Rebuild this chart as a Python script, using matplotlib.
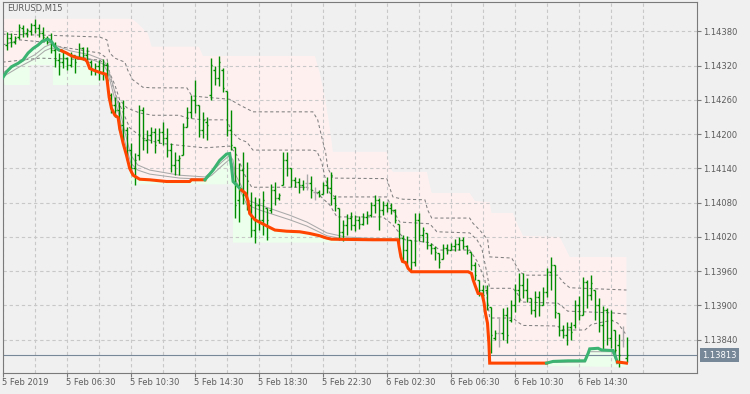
import numpy as np
import matplotlib
matplotlib.use("Agg")
import matplotlib.pyplot as plt
from matplotlib.transforms import blended_transform_factory

plt.rcParams['font.family'] = ['DejaVu Sans']

symbol = "EURUSD,M15"
last_price = 1.13813

time_labels = ['5 Feb 2019', '5 Feb 06:30', '5 Feb 10:30', '5 Feb 14:30', '5 Feb 18:30',
               '5 Feb 22:30', '6 Feb 02:30', '6 Feb 06:30', '6 Feb 10:30', '6 Feb 14:30']
label_bars = [0, 16, 32, 48, 64, 80, 96, 112, 128, 144]
price_ticks = [1.1384, 1.1390, 1.1396, 1.1402, 1.1408, 1.1414, 1.1420, 1.1426, 1.1432, 1.1438]

# OHLC of the M15 bars, oldest first
bar_high = [
    1.14379, 1.14377, 1.14372, 1.14393, 1.14391, 1.14386, 1.14395, 1.14402, 1.14393, 1.14388,
    1.14372, 1.14377, 1.14361, 1.14342, 1.14344, 1.14335, 1.14344, 1.14335, 1.14360, 1.14353,
    1.14353, 1.14330, 1.14325, 1.14330, 1.14332, 1.14326, 1.14272, 1.14265, 1.14256, 1.14260,
    1.14212, 1.14184, 1.14167, 1.14251, 1.14247, 1.14207, 1.14212, 1.14211, 1.14211, 1.14221,
    1.14211, 1.14184, 1.14169, 1.14163, 1.14219, 1.14247, 1.14268, 1.14295, 1.14251, 1.14239,
    1.14230, 1.14333, 1.14319, 1.14337, 1.14316, 1.14275, 1.14242, 1.14177, 1.14150, 1.14169,
    1.14151, 1.14099, 1.14090, 1.14088, 1.14101, 1.14071, 1.14113, 1.14116, 1.14097, 1.14169,
    1.14169, 1.14141, 1.14125, 1.14123, 1.14120, 1.14130, 1.14127, 1.14107, 1.14102, 1.14116,
    1.14125, 1.14134, 1.14094, 1.14071, 1.14050, 1.14060, 1.14064, 1.14059, 1.14057, 1.14062,
    1.14066, 1.14081, 1.14094, 1.14088, 1.14083, 1.14081, 1.14080, 1.14069, 1.14043, 1.14024,
    1.14022, 1.14015, 1.14062, 1.14062, 1.14038, 1.14027, 1.14010, 1.14004, 1.13992, 1.14008,
    1.14008, 1.14010, 1.14016, 1.14020, 1.14020, 1.14006, 1.13994, 1.13976, 1.13945, 1.13936,
    1.13936, 1.13897, 1.13857, 1.13878, 1.13896, 1.13897, 1.13910, 1.13937, 1.13957, 1.13957,
    1.13948, 1.13913, 1.13925, 1.13925, 1.13932, 1.13966, 1.13985, 1.13971, 1.13887, 1.13866,
    1.13871, 1.13871, 1.13910, 1.13917, 1.13950, 1.13945, 1.13953, 1.13927, 1.13913, 1.13899,
    1.13896, 1.13892, 1.13857, 1.13850, 1.13864, 1.13845]
bar_low = [
    1.14347, 1.14353, 1.14358, 1.14367, 1.14370, 1.14370, 1.14374, 1.14377, 1.14370, 1.14365,
    1.14358, 1.14342, 1.14318, 1.14304, 1.14316, 1.14312, 1.14318, 1.14307, 1.14333, 1.14330,
    1.14325, 1.14304, 1.14304, 1.14295, 1.14295, 1.14290, 1.14237, 1.14230, 1.14207, 1.14190,
    1.14155, 1.14132, 1.14111, 1.14155, 1.14172, 1.14167, 1.14184, 1.14167, 1.14184, 1.14181,
    1.14160, 1.14134, 1.14128, 1.14128, 1.14163, 1.14212, 1.14228, 1.14237, 1.14195, 1.14193,
    1.14190, 1.14260, 1.14286, 1.14284, 1.14274, 1.14197, 1.14172, 1.14053, 1.14046, 1.14078,
    1.14067, 1.14020, 1.14010, 1.14032, 1.14024, 1.14015, 1.14062, 1.14076, 1.14085, 1.14111,
    1.14127, 1.14107, 1.14107, 1.14097, 1.14102, 1.14102, 1.14088, 1.14085, 1.14090, 1.14095,
    1.14097, 1.14076, 1.14066, 1.14015, 1.14013, 1.14024, 1.14032, 1.14031, 1.14034, 1.14041,
    1.14043, 1.14055, 1.14062, 1.14032, 1.14059, 1.14064, 1.14060, 1.14045, 1.14010, 1.13978,
    1.13969, 1.13962, 1.13969, 1.14013, 1.14011, 1.13999, 1.13990, 1.13980, 1.13966, 1.13981,
    1.13990, 1.13997, 1.13995, 1.13997, 1.13999, 1.13990, 1.13962, 1.13945, 1.13917, 1.13910,
    1.13892, 1.13817, 1.13840, 1.13827, 1.13840, 1.13834, 1.13871, 1.13888, 1.13906, 1.13913,
    1.13906, 1.13885, 1.13880, 1.13882, 1.13901, 1.13915, 1.13927, 1.13878, 1.13847, 1.13843,
    1.13831, 1.13840, 1.13861, 1.13875, 1.13883, 1.13896, 1.13910, 1.13875, 1.13854, 1.13822,
    1.13831, 1.13826, 1.13808, 1.13792, 1.13827, 1.13801]
bar_open = [
    1.14356, 1.14368, 1.14361, 1.14370, 1.14386, 1.14377, 1.14381, 1.14391, 1.14386, 1.14377,
    1.14368, 1.14365, 1.14347, 1.14330, 1.14326, 1.14333, 1.14321, 1.14339, 1.14333, 1.14351,
    1.14339, 1.14326, 1.14312, 1.14319, 1.14309, 1.14321, 1.14268, 1.14251, 1.14242, 1.14216,
    1.14207, 1.14172, 1.14141, 1.14163, 1.14242, 1.14190, 1.14198, 1.14204, 1.14190, 1.14204,
    1.14193, 1.14172, 1.14146, 1.14155, 1.14163, 1.14212, 1.14239, 1.14260, 1.14251, 1.14207,
    1.14221, 1.14268, 1.14312, 1.14298, 1.14312, 1.14275, 1.14207, 1.14177, 1.14085, 1.14137,
    1.14094, 1.14076, 1.14032, 1.14076, 1.14050, 1.14071, 1.14067, 1.14102, 1.14088, 1.14111,
    1.14155, 1.14141, 1.14120, 1.14116, 1.14111, 1.14114, 1.14114, 1.14099, 1.14099, 1.14095,
    1.14111, 1.14106, 1.14088, 1.14071, 1.14029, 1.14041, 1.14053, 1.14041, 1.14050, 1.14043,
    1.14055, 1.14059, 1.14076, 1.14085, 1.14067, 1.14076, 1.14071, 1.14067, 1.14043, 1.14018,
    1.13997, 1.14015, 1.13976, 1.14050, 1.14024, 1.14027, 1.14006, 1.14001, 1.13992, 1.13981,
    1.14001, 1.13997, 1.14004, 1.14008, 1.14015, 1.14004, 1.13994, 1.13971, 1.13945, 1.13927,
    1.13927, 1.13897, 1.13843, 1.13852, 1.13852, 1.13883, 1.13875, 1.13901, 1.13927, 1.13936,
    1.13927, 1.13913, 1.13892, 1.13915, 1.13901, 1.13923, 1.13959, 1.13971, 1.13887, 1.13857,
    1.13848, 1.13862, 1.13866, 1.13901, 1.13883, 1.13941, 1.13918, 1.13927, 1.13901, 1.13866,
    1.13892, 1.13843, 1.13857, 1.13831, 1.13839, 1.13808]
bar_close = [
    1.14368, 1.14361, 1.14368, 1.14388, 1.14377, 1.14382, 1.14391, 1.14386, 1.14377, 1.14370,
    1.14365, 1.14347, 1.14330, 1.14326, 1.14333, 1.14321, 1.14339, 1.14326, 1.14351, 1.14339,
    1.14326, 1.14312, 1.14319, 1.14309, 1.14321, 1.14295, 1.14251, 1.14242, 1.14216, 1.14246,
    1.14172, 1.14141, 1.14155, 1.14242, 1.14190, 1.14198, 1.14204, 1.14181, 1.14204, 1.14193,
    1.14172, 1.14146, 1.14155, 1.14158, 1.14212, 1.14239, 1.14260, 1.14251, 1.14207, 1.14225,
    1.14216, 1.14321, 1.14298, 1.14326, 1.14281, 1.14207, 1.14181, 1.14076, 1.14137, 1.14094,
    1.14085, 1.14032, 1.14076, 1.14050, 1.14085, 1.14050, 1.14102, 1.14088, 1.14094, 1.14155,
    1.14141, 1.14120, 1.14116, 1.14111, 1.14107, 1.14114, 1.14102, 1.14099, 1.14094, 1.14111,
    1.14106, 1.14128, 1.14076, 1.14029, 1.14041, 1.14053, 1.14041, 1.14050, 1.14043, 1.14055,
    1.14059, 1.14076, 1.14085, 1.14067, 1.14076, 1.14071, 1.14067, 1.14050, 1.14018, 1.13997,
    1.14015, 1.13976, 1.14050, 1.14024, 1.14032, 1.14006, 1.14001, 1.13994, 1.13976, 1.14001,
    1.13997, 1.14004, 1.14008, 1.14015, 1.14004, 1.13997, 1.13971, 1.13953, 1.13927, 1.13918,
    1.13901, 1.13848, 1.13852, 1.13852, 1.13883, 1.13848, 1.13901, 1.13927, 1.13936, 1.13927,
    1.13913, 1.13892, 1.13915, 1.13901, 1.13923, 1.13959, 1.13971, 1.13888, 1.13857, 1.13848,
    1.13862, 1.13854, 1.13901, 1.13883, 1.13941, 1.13918, 1.13939, 1.13901, 1.13866, 1.13892,
    1.13843, 1.13875, 1.13822, 1.13813, 1.13839, 1.13813]

# trailing line, up (green) and down (red) legs, as (bar, price) vertices
up1_k = [0, 1, 2.25, 3.9, 5.15, 6.4, 7.65, 8.9, 10, 11.4, 12.25, 13.1, 14.15, 14.75]
up1_p = [1.14298, 1.14309, 1.14318, 1.14324, 1.14330, 1.14342, 1.14350, 1.14356, 1.14363,
         1.14366, 1.14362, 1.14353, 1.14347, 1.14346]
dn1_k = [14.75, 16, 17.25, 18.5, 20.6, 21.15, 21.8, 23.1, 24.75, 25.8, 26.15, 26.65, 27.25,
         28.1, 28.9, 29.3, 30.15, 31, 31.8, 32.65, 34.3, 36.8, 41, 46.8, 47.25, 50.6]
dn1_p = [1.14346, 1.14342, 1.14337, 1.14334, 1.14331, 1.14327, 1.14315, 1.14311, 1.14307,
         1.14305, 1.14295, 1.14265, 1.14245, 1.14233, 1.14229, 1.14210, 1.14184, 1.14163,
         1.14140, 1.14128, 1.14121, 1.14120, 1.14117, 1.14117, 1.14120, 1.14120]
up2_k = [50.6, 52.65, 54.3, 56, 56.8, 57.25, 57.65, 58.5, 59.75]
up2_p = [1.14120, 1.14137, 1.14154, 1.14165, 1.14166, 1.14143, 1.14117, 1.14111, 1.14102]
dn2_k = [59.75, 60.8, 61.4, 61.8, 63.1, 64.75, 66.4, 68.1, 71, 74.3, 76.8, 79.3, 81, 82.25,
         92.65, 98.9, 99.15, 99.6, 100, 100.8, 101.4, 102.25, 116.4, 117.25, 117.65, 118.25,
         118.9, 119.9, 120.4, 120.75, 121.25, 121.6, 121.8, 136]
dn2_p = [1.14102, 1.14096, 1.14082, 1.14061, 1.14050, 1.14044, 1.14038, 1.14032, 1.14030,
         1.14029, 1.14026, 1.14022, 1.14018, 1.14016, 1.14015, 1.14015, 1.14003, 1.13985,
         1.13977, 1.13975, 1.13965, 1.13959, 1.13959, 1.13956, 1.13945, 1.13933, 1.13921,
         1.13920, 1.13904, 1.13886, 1.13869, 1.13834, 1.13799, 1.13799]
up3_k = [136, 137.65, 141.4, 145.6, 146.4, 146.8, 148.9, 149.75, 152.65, 153.25, 153.75]
up3_p = [1.13799, 1.13802, 1.13803, 1.13803, 1.13816, 1.13824, 1.13825, 1.13822, 1.13821,
         1.13810, 1.13800]
dn3_k = [153.75, 156]
dn3_p = [1.13801, 1.13799]

# upper channel edge (top of the pink area)
env_k = [0, 32.3, 33.6, 36.3, 37.3, 49.1, 50.1, 78.1, 79.3, 80.6, 81.8, 82.6, 96.1, 96.8,
         97.6, 106.1, 106.8, 107.3, 116.8, 118.1, 121.8, 122.25, 127.6, 128.8, 130.1, 139.3,
         140.6, 141.8, 156]
env_p = [1.14402, 1.14402, 1.14395, 1.14377, 1.14353, 1.14353, 1.14337, 1.14337, 1.14307,
         1.14265, 1.14212, 1.14169, 1.14169, 1.14142, 1.14134, 1.14134, 1.14111, 1.14097,
         1.14097, 1.14083, 1.14081, 1.14062, 1.14062, 1.14041, 1.14022, 1.14020, 1.14002,
         1.13985, 1.13985]

# lower edges of the light green areas under the trailing line
mint_a_k = [0, 6.8, 6.8, 12.6, 12.6, 24.3]
mint_a_p = [1.14286, 1.14286, 1.14321, 1.14321, 1.14286, 1.14286]
mint_b_k = [31.8, 57.6]
mint_b_p = [1.14112, 1.14112]
mint_c_k = [57.6, 84.3]
mint_c_p = [1.14010, 1.14010]
mint_d_k = [136, 156]
mint_d_p = [1.13794, 1.13792]

# dashed levels
lev1_k = [0, 11.8, 24.3, 26.1, 26.8, 28.1, 30.6, 31.3, 32.6, 35.1, 37.6, 46.1, 47.3, 50.1,
          56.8, 59.3, 61.8, 62.6, 77.6, 78.8, 79.8, 80.8, 81.3, 82.6, 96.1, 96.8, 97.6, 100.1,
          105.6, 106.3, 107.3, 116.8, 117.6, 119.3, 121.3, 121.8, 127.3, 128.3, 129.3, 130.6,
          138.8, 140.1, 141.8, 156]
lev1_p = [1.14375, 1.14373, 1.14370, 1.14365, 1.14342, 1.14333, 1.14326, 1.14312, 1.14295,
          1.14282, 1.14281, 1.14281, 1.14267, 1.14265, 1.14261, 1.14251, 1.14242, 1.14239,
          1.14239, 1.14225, 1.14195, 1.14167, 1.14141, 1.14123, 1.14122, 1.14106, 1.14090,
          1.14086, 1.14085, 1.14067, 1.14053, 1.14053, 1.14044, 1.14032, 1.14015, 1.13985,
          1.13983, 1.13971, 1.13959, 1.13953, 1.13953, 1.13941, 1.13931, 1.13927]
lev2_k = [0, 4.3, 11.8, 14.3, 24.3, 26.1, 26.8, 28.1, 29.3, 31.1, 34.3, 37.6, 44.3, 46.1,
          50.1, 56.1, 57.3, 59.3, 61.1, 62.6, 77.6, 78.6, 79.8, 80.6, 81.8, 83.1, 96.1, 97.3,
          99.3, 106.8, 108.6, 116.8, 118.6, 119.8, 120.8, 121.8, 127.6, 128.8, 129.8, 138.8,
          139.8, 141.3, 152.3, 156]
lev2_p = [1.14356, 1.14365, 1.14360, 1.14353, 1.14342, 1.14333, 1.14307, 1.14286, 1.14260,
          1.14246, 1.14237, 1.14233, 1.14233, 1.14228, 1.14225, 1.14225, 1.14204, 1.14191,
          1.14186, 1.14172, 1.14172, 1.14170, 1.14151, 1.14125, 1.14097, 1.14090, 1.14090,
          1.14071, 1.14046, 1.14043, 1.14029, 1.14027, 1.14015, 1.14001, 1.13967, 1.13930,
          1.13930, 1.13920, 1.13906, 1.13904, 1.13899, 1.13890, 1.13887, 1.13885]
lev3_k = [0, 9.3, 24.3, 26.3, 27.3, 28.8, 31.8, 35.1, 39.3, 46.1, 50.6, 56.8, 58.6, 60.6,
          62.3, 76.1, 78.6, 81.8, 83.6, 95.1, 97.6, 100.6, 106.8, 109.3, 116.8, 118.8, 120.6,
          121.8, 127.6, 128.8, 130.1, 138.8, 139.8, 145.6, 147.3, 152.3, 153.8, 156]
lev3_p = [1.14326, 1.14333, 1.14330, 1.14316, 1.14291, 1.14260, 1.14211, 1.14193, 1.14184,
          1.14179, 1.14176, 1.14179, 1.14163, 1.14128, 1.14107, 1.14107, 1.14097, 1.14076,
          1.14055, 1.14055, 1.14041, 1.14015, 1.14010, 1.13997, 1.13997, 1.13976, 1.13945,
          1.13878, 1.13878, 1.13871, 1.13865, 1.13864, 1.13857, 1.13857, 1.13867, 1.13874,
          1.13869, 1.13848]

# thin grey averages hugging the trailing line
avg1_k = [0, 4.3, 8.1, 10.6, 12.3, 13.8, 16.8, 21.8, 25.1, 26.3, 27.6, 29.3, 30.8, 32.1,
          33.8, 36.8, 44.3, 50.6, 52.3, 54.8, 56.8, 57.6, 58.3, 59.6, 61.1, 64.3, 71.8, 76.1,
          81.1, 85.6, 90.6, 98.8]
avg1_p = [1.14307, 1.14325, 1.14339, 1.14353, 1.14358, 1.14354, 1.14346, 1.14339, 1.14330,
          1.14318, 1.14286, 1.14242, 1.14198, 1.14163, 1.14146, 1.14137, 1.14128, 1.14125,
          1.14134, 1.14151, 1.14163, 1.14155, 1.14128, 1.14111, 1.14085, 1.14076, 1.14058,
          1.14046, 1.14027, 1.14020, 1.14018, 1.14016]
avg2_k = avg1_k
avg2_p = [1.14300, 1.14318, 1.14332, 1.14346, 1.14351, 1.14347, 1.14339, 1.14332, 1.14323,
          1.14309, 1.14274, 1.14228, 1.14181, 1.14149, 1.14137, 1.14130, 1.14123, 1.14121,
          1.14128, 1.14144, 1.14156, 1.14146, 1.14120, 1.14099, 1.14076, 1.14067, 1.14050,
          1.14039, 1.14022, 1.14016, 1.14015, 1.14015]
avg_tail_k = [136, 145.6, 146.8, 152.3, 153.8, 156]
avg_tail_p = [1.13800, 1.13801, 1.13819, 1.13819, 1.13800, 1.13798]

BG = '#f0f0f0'
FRAME = '#7a7a7a'
TEXT = '#5c5c5c'
GRID = '#c8c8c8'
PINK = '#fff0f0'
MINT = '#ecffec'
BAR = '#008c00'
DOJI = '#a9a9a9'
UP = '#3cb371'
DOWN = '#ff4500'
LEVEL = '#808080'
AVG = '#a9a9a9'
SLATE = '#778899'

fig = plt.figure(figsize=(7.5, 3.94), dpi=100, facecolor=BG)
# 4 px per bar; left edge put on a half pixel so each bar stem is centred on a pixel column
ax = fig.add_axes([2.5 / 750, 21 / 394, 694.6 / 750, 370.7 / 394])
ax.set_facecolor(BG)

trail_k = np.concatenate([up1_k, dn1_k, up2_k, dn2_k, up3_k, dn3_k])
trail_p = np.concatenate([up1_p, dn1_p, up2_p, dn2_p, up3_p, dn3_p])

# pink band between channel top and trailing line
ax.fill(np.r_[env_k, trail_k[::-1]], np.r_[env_p, trail_p[::-1]],
        color=PINK, lw=0, zorder=0.2)

# light green strips below the trailing line
for lo_k, lo_p in [(mint_a_k, mint_a_p), (mint_b_k, mint_b_p),
                   (mint_c_k, mint_c_p), (mint_d_k, mint_d_p)]:
    m = (trail_k >= lo_k[0]) & (trail_k <= lo_k[-1])
    ax.fill(np.r_[trail_k[m], lo_k[::-1]], np.r_[trail_p[m], lo_p[::-1]],
            color=MINT, lw=0, zorder=0.3)

for lk, lp in [(lev1_k, lev1_p), (lev2_k, lev2_p), (lev3_k, lev3_p)]:
    ax.plot(lk, lp, color=LEVEL, lw=0.75, linestyle=(0, (3, 2.5)), zorder=2)

for gk, gp in [(avg1_k, avg1_p), (avg2_k, avg2_p), (avg_tail_k, avg_tail_p)]:
    ax.plot(gk, gp, color=AVG, lw=0.75, zorder=2.1)

ax.axhline(last_price, color=SLATE, lw=0.8, zorder=2.5)

# OHLC bars: high-low stems with open/close ticks
o = np.array(bar_open)
c = np.array(bar_close)
idx = np.arange(1, len(bar_high) + 1)
cols = np.where(np.abs(o - c) < 1e-9, DOJI, BAR)
ax.vlines(idx, bar_low, bar_high, colors=cols, lw=1.0, zorder=3)
ax.hlines(o, idx - 0.35, idx, colors=cols, lw=1.0, zorder=3)
ax.hlines(c, idx, idx + 0.35, colors=cols, lw=1.0, zorder=3)

# trailing line on top
for tk, tp, col in [(up1_k, up1_p, UP), (dn1_k, dn1_p, DOWN), (up2_k, up2_p, UP),
                    (dn2_k, dn2_p, DOWN), (up3_k, up3_p, UP), (dn3_k, dn3_p, DOWN)]:
    ax.plot(tk, tp, color=col, lw=2.2, solid_joinstyle='miter', zorder=4)

ax.set_xlim(0, 173.65)
ax.set_ylim(1.137817, 1.144308)

ax.set_axisbelow(True)
ax.set_xticks(label_bars)
ax.set_xticklabels(time_labels, ha='left')
ax.set_xticks([b + 8 for b in label_bars] + [160], minor=True)
ax.tick_params(axis='x', which='minor', length=0)
ax.tick_params(axis='x', which='major', direction='out', length=3, width=0.8,
               color=FRAME, labelsize=6, labelcolor=TEXT, pad=0.8)
ax.yaxis.tick_right()
ax.set_yticks(price_ticks)
ax.set_yticklabels([f'{p:.5f}' for p in price_ticks])
ax.tick_params(axis='y', direction='out', length=2.8, width=0.8, color=FRAME,
               labelsize=6, labelcolor=TEXT, pad=1.5)
ax.grid(True, axis='x', which='both', color=GRID, lw=0.8, linestyle=(0, (3, 2.5)))
ax.grid(True, axis='y', which='major', color=GRID, lw=0.8, linestyle=(0, (3, 2.5)))

for sp in ax.spines.values():
    sp.set_color(FRAME)
    sp.set_linewidth(0.8)

tr = blended_transform_factory(ax.transAxes, ax.transData)
ax.text(1 + 5 / 694.6, last_price, f'{last_price:.5f}', transform=tr, ha='left', va='center',
        fontsize=6, color='white', zorder=5, clip_on=False,
        bbox=dict(boxstyle='square,pad=0.3', fc=SLATE, ec='none'))

fig.text(6.7 / 750, 1 - 4 / 394, symbol, ha='left', va='top', fontsize=6, color=TEXT)

fig.savefig('out.png', dpi=100, facecolor=BG)
